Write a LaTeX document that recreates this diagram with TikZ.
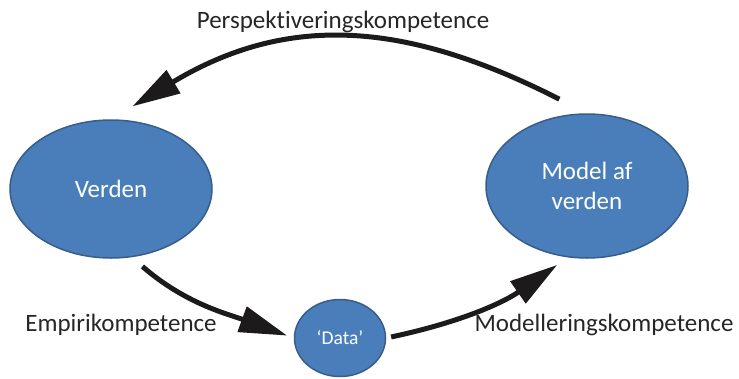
\documentclass[tikz,border=0pt]{standalone}
\usepackage{fontspec}
\setmainfont{Carlito}[Ligatures={NoCommon}]
\usetikzlibrary{arrows.meta, positioning, shapes.geometric}
\definecolor{worldblue}{RGB}{74,126,187}
\definecolor{worldedge}{RGB}{56,93,138}
\definecolor{arrowblack}{RGB}{28,26,26}
\definecolor{labelgray}{RGB}{38,38,38}

\begin{document}
\begin{tikzpicture}[x=1pt,y=1pt]
    \tikzset{
        world node/.style={ellipse, draw=worldedge, line width=1.5pt, fill=worldblue, text=white, inner sep=0, align=center, font=\fontsize{25}{30}\selectfont},
        data node/.style={ellipse, draw=worldedge, line width=1.5pt, fill=worldblue, text=white, inner sep=0, minimum width=91pt, minimum height=77pt, font=\fontsize{19.5}{22}\selectfont},
        skill arrow/.style={draw=arrowblack, line width=5pt, -{Triangle[length=48pt,width=26pt]}},
        skill label/.style={text=labelgray, anchor=base, inner sep=0, font=\fontsize{25}{30}\selectfont}
      }
\useasboundingbox (0,0) rectangle (739,-378);
\node[world node, minimum width=202pt, minimum height=138pt] (verden) at (111,-189) {Verden};
\node[world node, minimum width=202pt, minimum height=144pt] (model) at (587,-186) {Model af\\verden};
\node[data node] (data) at (340,-338) {`Data'};
% kompetencer
\node[skill label] (persp) at (343,-28) {Perspektiveringskompetence};
\node[skill label] (empiri) at (121,-331) {Empirikompetence};
\node[skill label] (modell) at (604,-331) {Modelleringskompetence};
\draw[skill arrow, shorten <=31pt, shorten >=25pt] (model.north) to[out=153, in=31, looseness=1.1] (verden.north);
\draw[skill arrow, shorten <=14pt, shorten >=7pt] (verden.287) to[out=-41, in=160] (data.west);
\draw[skill arrow, shorten <=5pt, shorten >=13pt] (data.east) to[out=12, in=215] (model.255);
\end{tikzpicture}
\end{document}
